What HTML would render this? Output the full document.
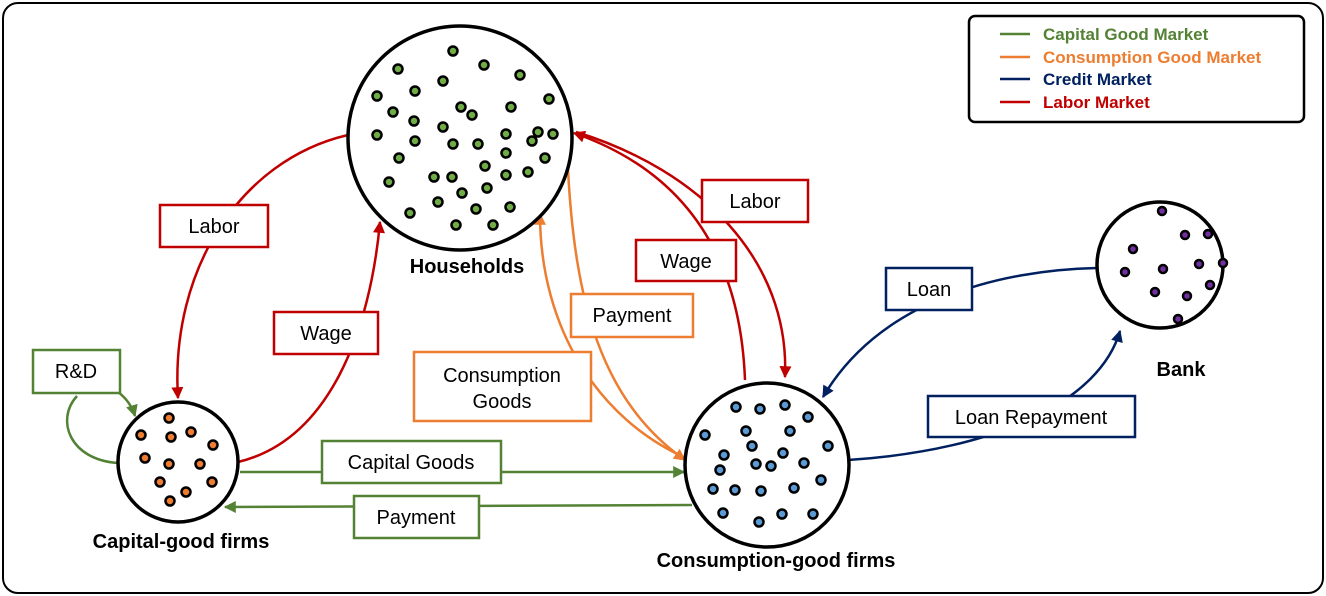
<!DOCTYPE html>
<html><head><meta charset="utf-8"><style>
body{margin:0;background:#fff}
svg{display:block}
.b{font-family:"Liberation Sans","Noto Sans CJK KR",sans-serif}
</style></head><body>
<svg width="1326" height="596" viewBox="0 0 1326 596" xmlns="http://www.w3.org/2000/svg" class="b">
<defs>
<marker id="ar" viewBox="0 0 10 10" refX="9" refY="5" markerWidth="14" markerHeight="12" orient="auto" markerUnits="userSpaceOnUse"><path d="M0,0 L10,5 L0,10 z" fill="#c00000"/></marker>
<marker id="ao" viewBox="0 0 10 10" refX="9" refY="5" markerWidth="14" markerHeight="12" orient="auto" markerUnits="userSpaceOnUse"><path d="M0,0 L10,5 L0,10 z" fill="#ed7d31"/></marker>
<marker id="ag" viewBox="0 0 10 10" refX="9" refY="5" markerWidth="14" markerHeight="12" orient="auto" markerUnits="userSpaceOnUse"><path d="M0,0 L10,5 L0,10 z" fill="#548235"/></marker>
<marker id="an" viewBox="0 0 10 10" refX="9" refY="5" markerWidth="14" markerHeight="12" orient="auto" markerUnits="userSpaceOnUse"><path d="M0,0 L10,5 L0,10 z" fill="#002060"/></marker>
</defs>
<rect x="3" y="3" width="1320" height="590" rx="15" fill="#fff" stroke="#000" stroke-width="2"/>

<g fill="none" stroke-width="2.5">
<path d="M348,135 C240,160 170,270 178,398" stroke="#c00000" marker-end="url(#ar)"/>
<path d="M238,462 C330,440 370,330 380,222" stroke="#c00000" marker-end="url(#ar)"/>
<path d="M576,132 C700,170 790,260 785,377" stroke="#c00000" marker-end="url(#ar)"/>
<path d="M745,380 C740,250 680,170 574,133" stroke="#c00000" marker-end="url(#ar)"/>
<path d="M568,170 C575,300 600,400 685,460" stroke="#ed7d31" marker-end="url(#ao)"/>
<path d="M686,458 C600,420 540,330 540,214" stroke="#ed7d31" marker-end="url(#ao)"/>
<path d="M77,396 C55,420 70,460 118,463" stroke="#548235"/>
<path d="M118,392 C126,398 132,406 135,416" stroke="#548235" marker-end="url(#ag)"/>
<path d="M240,472 L684,472" stroke="#548235" marker-end="url(#ag)"/>
<path d="M692,505 L225,507" stroke="#548235" marker-end="url(#ag)"/>
<path d="M1097,268 C1000,270 880,300 823,397" stroke="#002060" marker-end="url(#an)"/>
<path d="M848,460 C1000,450 1100,400 1120,331" stroke="#002060" marker-end="url(#an)"/>
</g>

<g stroke="#000" stroke-width="3.5" fill="#fff">
<circle cx="460" cy="138" r="112"/>
<circle cx="178" cy="462" r="60"/>
<circle cx="767" cy="465" r="82"/>
<circle cx="1160" cy="265" r="63"/>
</g>
<g stroke="#000" stroke-width="2.5" fill="#70ad47">
<circle cx="453" cy="51" r="4.5"/><circle cx="398" cy="69" r="4.5"/><circle cx="484" cy="65" r="4.5"/><circle cx="443" cy="81" r="4.5"/><circle cx="520" cy="75" r="4.5"/><circle cx="377" cy="96" r="4.5"/><circle cx="415" cy="91" r="4.5"/><circle cx="461" cy="107" r="4.5"/><circle cx="511" cy="107" r="4.5"/><circle cx="549" cy="99" r="4.5"/><circle cx="393" cy="112" r="4.5"/><circle cx="472" cy="115" r="4.5"/><circle cx="414" cy="121" r="4.5"/><circle cx="443" cy="127" r="4.5"/><circle cx="377" cy="135" r="4.5"/><circle cx="415" cy="141" r="4.5"/><circle cx="453" cy="144" r="4.5"/><circle cx="506" cy="134" r="4.5"/><circle cx="538" cy="132" r="4.5"/><circle cx="553" cy="134" r="4.5"/><circle cx="478" cy="144" r="4.5"/><circle cx="532" cy="141" r="4.5"/><circle cx="506" cy="153" r="4.5"/><circle cx="399" cy="158" r="4.5"/><circle cx="545" cy="158" r="4.5"/><circle cx="485" cy="166" r="4.5"/><circle cx="506" cy="175" r="4.5"/><circle cx="434" cy="177" r="4.5"/><circle cx="452" cy="177" r="4.5"/><circle cx="528" cy="172" r="4.5"/><circle cx="389" cy="182" r="4.5"/><circle cx="462" cy="193" r="4.5"/><circle cx="487" cy="188" r="4.5"/><circle cx="438" cy="202" r="4.5"/><circle cx="476" cy="209" r="4.5"/><circle cx="510" cy="207" r="4.5"/><circle cx="410" cy="213" r="4.5"/><circle cx="456" cy="225" r="4.5"/><circle cx="493" cy="225" r="4.5"/>
</g>
<g stroke="#000" stroke-width="2.5" fill="#ed7d31">
<circle cx="169" cy="418" r="4.5"/><circle cx="141" cy="435" r="4.5"/><circle cx="171" cy="437" r="4.5"/><circle cx="191" cy="432" r="4.5"/><circle cx="213" cy="445" r="4.5"/><circle cx="145" cy="458" r="4.5"/><circle cx="169" cy="464" r="4.5"/><circle cx="200" cy="464" r="4.5"/><circle cx="160" cy="482" r="4.5"/><circle cx="186" cy="492" r="4.5"/><circle cx="212" cy="482" r="4.5"/><circle cx="170" cy="501" r="4.5"/>
</g>
<g stroke="#000" stroke-width="2.5" fill="#5b9bd5">
<circle cx="736" cy="407" r="4.5"/><circle cx="760" cy="409" r="4.5"/><circle cx="785" cy="405" r="4.5"/><circle cx="808" cy="417" r="4.5"/><circle cx="705" cy="435" r="4.5"/><circle cx="746" cy="431" r="4.5"/><circle cx="790" cy="431" r="4.5"/><circle cx="752" cy="446" r="4.5"/><circle cx="828" cy="446" r="4.5"/><circle cx="724" cy="455" r="4.5"/><circle cx="783" cy="453" r="4.5"/><circle cx="756" cy="464" r="4.5"/><circle cx="771" cy="466" r="4.5"/><circle cx="804" cy="463" r="4.5"/><circle cx="720" cy="470" r="4.5"/><circle cx="821" cy="480" r="4.5"/><circle cx="713" cy="489" r="4.5"/><circle cx="735" cy="490" r="4.5"/><circle cx="761" cy="491" r="4.5"/><circle cx="794" cy="488" r="4.5"/><circle cx="723" cy="513" r="4.5"/><circle cx="759" cy="522" r="4.5"/><circle cx="782" cy="514" r="4.5"/><circle cx="813" cy="514" r="4.5"/>
</g>
<g stroke="#000" stroke-width="2.5" fill="#7030a0">
<circle cx="1162" cy="211" r="4"/><circle cx="1185" cy="235" r="4"/><circle cx="1208" cy="234" r="4"/><circle cx="1133" cy="249" r="4"/><circle cx="1163" cy="269" r="4"/><circle cx="1199" cy="264" r="4"/><circle cx="1223" cy="263" r="4"/><circle cx="1125" cy="272" r="4"/><circle cx="1155" cy="292" r="4"/><circle cx="1187" cy="296" r="4"/><circle cx="1210" cy="285" r="4"/><circle cx="1178" cy="319" r="4"/>
</g>

<g font-weight="bold" font-size="20" text-anchor="middle" fill="#000">
<text x="467" y="273">Households</text>
<text x="181" y="548">Capital-good firms</text>
<text x="776" y="567">Consumption-good firms</text>
<text x="1181" y="376">Bank</text>
</g>

<g fill="#fff" stroke-width="2.5">
<rect x="160" y="205" width="108" height="42" stroke="#c00000"/>
<rect x="274" y="312" width="104" height="42" stroke="#c00000"/>
<rect x="702" y="180" width="106" height="42" stroke="#c00000"/>
<rect x="636" y="240" width="100" height="41" stroke="#c00000"/>
<rect x="571" y="294" width="122" height="43" stroke="#ed7d31"/>
<rect x="414" y="352" width="177" height="69" stroke="#ed7d31"/>
<rect x="33" y="350" width="87" height="43" stroke="#548235"/>
<rect x="322" y="441" width="179" height="42" stroke="#548235"/>
<rect x="354" y="496" width="125" height="42" stroke="#548235"/>
<rect x="886" y="268" width="86" height="42" stroke="#002060"/>
<rect x="928" y="396" width="207" height="41" stroke="#002060"/>
</g>
<g font-size="20" text-anchor="middle" fill="#000">
<text x="214" y="233">Labor</text>
<text x="326" y="340">Wage</text>
<text x="755" y="208">Labor</text>
<text x="686" y="268">Wage</text>
<text x="632" y="322">Payment</text>
<text x="502" y="382">Consumption</text>
<text x="502" y="408">Goods</text>
<text x="76" y="378">R&amp;D</text>
<text x="411" y="469">Capital Goods</text>
<text x="416" y="524">Payment</text>
<text x="929" y="296">Loan</text>
<text x="1031" y="424">Loan Repayment</text>
</g>

<rect x="969" y="16" width="335" height="106" rx="6" fill="#fff" stroke="#000" stroke-width="2.5"/>
<g stroke-width="2.5">
<line x1="1000" y1="34" x2="1030" y2="34" stroke="#548235"/>
<line x1="1000" y1="57" x2="1030" y2="57" stroke="#ed7d31"/>
<line x1="1000" y1="79" x2="1030" y2="79" stroke="#002060"/>
<line x1="1000" y1="102" x2="1030" y2="102" stroke="#c00000"/>
</g>
<g font-size="17" font-weight="bold">
<text x="1043" y="40" fill="#548235">Capital Good Market</text>
<text x="1043" y="63" fill="#ed7d31">Consumption Good Market</text>
<text x="1043" y="85" fill="#002060">Credit Market</text>
<text x="1043" y="108" fill="#c00000">Labor Market</text>
</g>
</svg>
</body></html>
